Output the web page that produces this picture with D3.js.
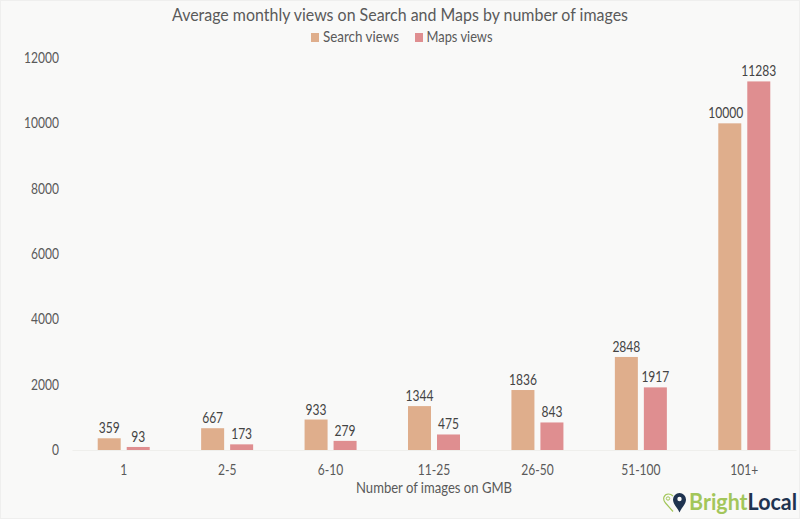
<!DOCTYPE html>
<html>
<head>
<meta charset="utf-8">
<script src="https://cdn.jsdelivr.net/npm/d3@7"></script>
<style>
  html, body { margin: 0; padding: 0; background: #f9f9f8; }
  text { font-family: Lato, sans-serif; }
</style>
</head>
<body>
<div id="chart"></div>
<script>
const categories = ["1", "2-5", "6-10", "11-25", "26-50", "51-100", "101+"];
const searchViews = [359, 667, 933, 1344, 1836, 2848, 10000];
const mapsViews = [93, 173, 279, 475, 843, 1917, 11283];
const yTicks = [0, 2000, 4000, 6000, 8000, 10000, 12000];
const seriesNames = ["Search views", "Maps views"];

const WIDTH = 800;
const HEIGHT = 519;
const SEARCH_COLOR = "#dfae8c";
const MAPS_COLOR = "#df8e90";
const TEXT_COLOR = "#5a5a5a";
const SQUEEZE = 0.83; // reference font is narrower than anything installed
const margin = { top: 58, right: 4, bottom: 69, left: 72 };

const svg = d3.select("#chart").append("svg")
  .attr("width", WIDTH)
  .attr("height", HEIGHT)
  .style("display", "block");

function squeeze(selection, factor) {
  selection.each(function () {
    d3.select(this)
      .attr("lengthAdjust", "spacingAndGlyphs")
      .attr("textLength", this.getComputedTextLength() * factor);
  });
}

svg.append("rect")
  .attr("x", 0.5).attr("y", 0.5)
  .attr("width", WIDTH - 1).attr("height", HEIGHT - 1)
  .attr("fill", "#f9f9f8")
  .attr("stroke", "#efefee");

const x = d3.scaleBand()
  .domain(categories)
  .range([margin.left, WIDTH - margin.right]);

const inner = d3.scaleBand()
  .domain(seriesNames)
  .range([0, 52])
  .paddingInner(0.207);

const y = d3.scaleLinear()
  .domain([0, 12000])
  .range([HEIGHT - margin.bottom, margin.top]);

// axes
const xAxis = svg.append("g")
  .attr("transform", `translate(0,${y(0)})`)
  .call(d3.axisBottom(x).tickSize(0).tickPadding(15));
xAxis.select(".domain").attr("stroke", "#efefec");
xAxis.selectAll("text")
  .attr("fill", TEXT_COLOR)
  .style("font-size", "14.5px")
  .style("font-family", "Lato, sans-serif")
  .call(squeeze, SQUEEZE);

const yAxis = svg.append("g")
  .attr("transform", `translate(${margin.left - 1},0)`)
  .call(d3.axisLeft(y).tickValues(yTicks).tickFormat(d3.format("d")).tickSize(0).tickPadding(12));
yAxis.select(".domain").remove();
yAxis.selectAll("text")
  .attr("fill", TEXT_COLOR)
  .style("font-size", "14.5px")
  .style("font-family", "Lato, sans-serif")
  .call(squeeze, SQUEEZE);

// bars
const series = [
  { name: seriesNames[0], values: searchViews, color: SEARCH_COLOR },
  { name: seriesNames[1], values: mapsViews, color: MAPS_COLOR }
];

series.forEach(function (s) {
  const g = svg.append("g");
  const barX = (d, i) => x(categories[i]) + (x.bandwidth() - 52) / 2 + inner(s.name);

  g.selectAll("rect")
    .data(s.values)
    .enter()
    .append("rect")
    .attr("x", barX)
    .attr("y", d => y(d))
    .attr("width", inner.bandwidth())
    .attr("height", d => y(0) - y(d))
    .attr("fill", s.color);

  g.selectAll("text")
    .data(s.values)
    .enter()
    .append("text")
    // the 10000 label sits left of its bar so it clears the taller one
    .attr("x", (d, i) => barX(d, i) + inner.bandwidth() / 2 - (d === 10000 ? 4 : 0))
    .attr("y", d => y(d) - 5)
    .attr("text-anchor", "middle")
    .attr("fill", "#444444")
    .style("font-size", "14.5px")
    .text(d => d)
    .call(squeeze, SQUEEZE);
});

// title
svg.append("text")
  .attr("x", 400)
  .attr("y", 21)
  .attr("text-anchor", "middle")
  .attr("fill", TEXT_COLOR)
  .style("font-size", "18px")
  .attr("lengthAdjust", "spacingAndGlyphs")
  .attr("textLength", 456)
  .text("Average monthly views on Search and Maps by number of images");

// legend
const legendItems = [
  { label: seriesNames[0], color: SEARCH_COLOR, box: 311, tx: 323, len: 76 },
  { label: seriesNames[1], color: MAPS_COLOR, box: 415, tx: 426.5, len: 66 }
];
const legend = svg.append("g");
legendItems.forEach(function (l) {
  legend.append("rect")
    .attr("x", l.box).attr("y", 33)
    .attr("width", 8).attr("height", 9)
    .attr("fill", l.color);
  legend.append("text")
    .attr("x", l.tx).attr("y", 42)
    .attr("fill", TEXT_COLOR)
    .style("font-size", "15px")
    .attr("lengthAdjust", "spacingAndGlyphs")
    .attr("textLength", l.len)
    .text(l.label);
});

// x axis title
svg.append("text")
  .attr("x", 434)
  .attr("y", 493)
  .attr("text-anchor", "middle")
  .attr("fill", TEXT_COLOR)
  .style("font-size", "15px")
  .attr("lengthAdjust", "spacingAndGlyphs")
  .attr("textLength", 156)
  .text("Number of images on GMB");

// logo
const logo = svg.append("g").attr("transform", "translate(664,503)");
logo.append("path")
  .attr("d", "M9,8.5 L1.5,0 C-2,-4 0,-9 4.5,-9 C6.5,-9 8,-8 9,-7")
  .attr("fill", "none")
  .attr("stroke", "#a3c65a")
  .attr("stroke-width", 1.2);
logo.append("circle")
  .attr("cx", 4).attr("cy", -4.5).attr("r", 1.7)
  .attr("fill", "none")
  .attr("stroke", "#a3c65a")
  .attr("stroke-width", 1);
logo.append("path")
  .attr("d", "M9,-3.5 a6.5,6.5 0 1 1 13,0 C22,1 18,4 15.5,9.5 C13,4 9,1 9,-3.5 Z")
  .attr("fill", "#1f3350");
logo.append("circle")
  .attr("cx", 15.5).attr("cy", -4).attr("r", 2.2)
  .attr("fill", "#f9f9f8");
const logoText = logo.append("text")
  .attr("x", 25)
  .attr("y", 7)
  .attr("lengthAdjust", "spacingAndGlyphs")
  .attr("textLength", 108)
  .style("font-size", "22px")
  .style("font-weight", 700);
logoText.append("tspan").attr("fill", "#a3c65a").text("Bright");
logoText.append("tspan").attr("fill", "#1f3350").text("Local");
</script>
</body>
</html>
